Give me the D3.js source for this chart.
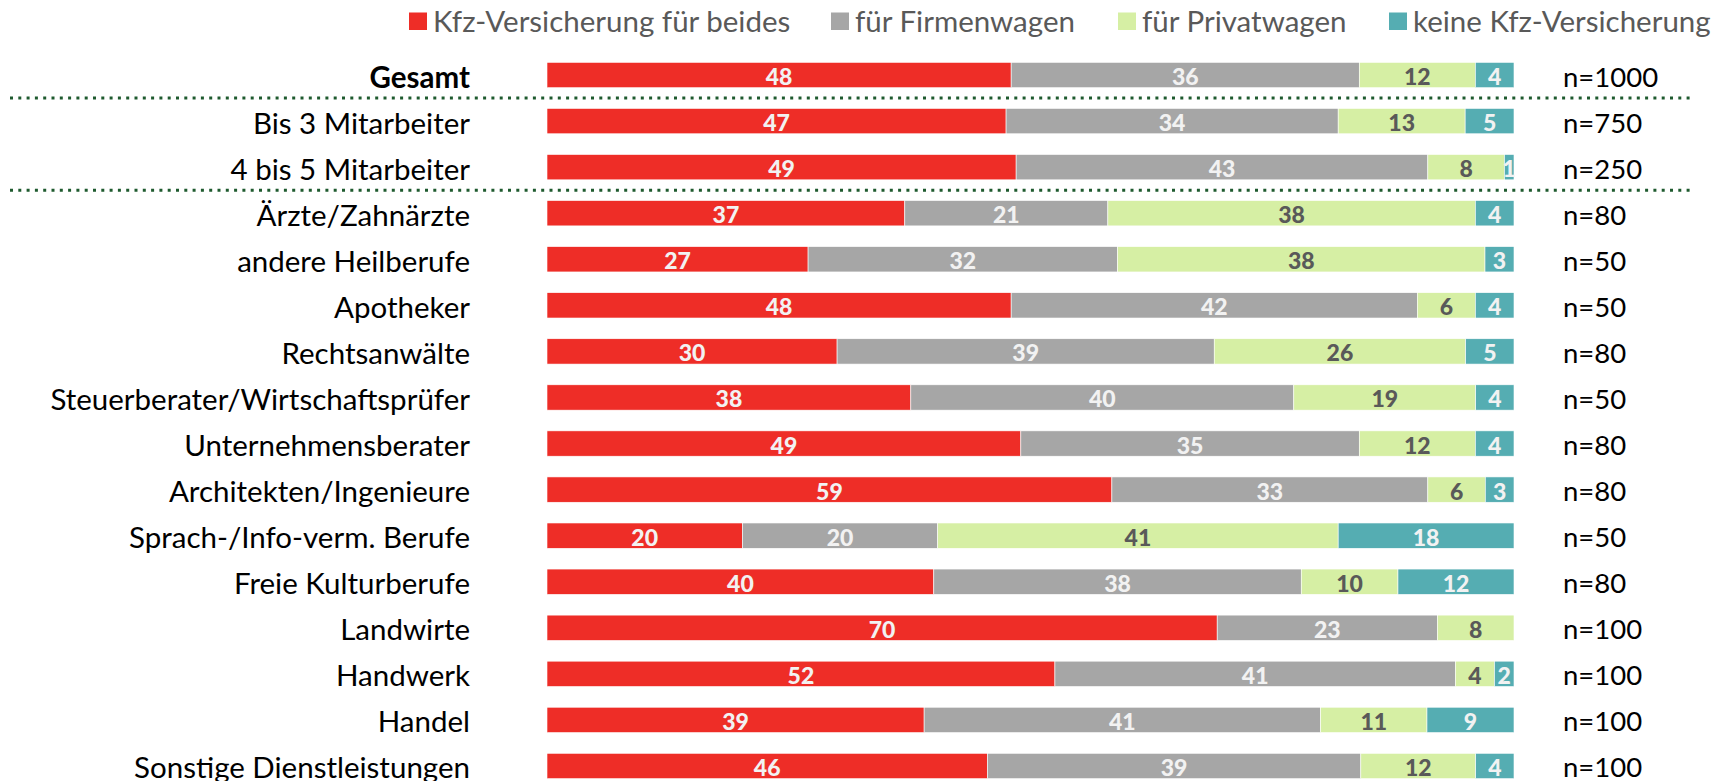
<!DOCTYPE html>
<html><head><meta charset="utf-8">
<script src="https://cdn.jsdelivr.net/npm/d3@7"></script>
<style>body{margin:0;background:#fff}svg{display:block}text{font-family:Lato,"Open Sans",sans-serif}</style>
</head><body><svg id="c" width="1729" height="781"></svg>
<script>
const categories = ["Gesamt","Bis 3 Mitarbeiter","4 bis 5 Mitarbeiter","Ärzte/Zahnärzte","andere Heilberufe","Apotheker","Rechtsanwälte","Steuerberater/Wirtschaftsprüfer","Unternehmensberater","Architekten/Ingenieure","Sprach-/Info-verm. Berufe","Freie Kulturberufe","Landwirte","Handwerk","Handel","Sonstige Dienstleistungen"];
const nLabels = ["n=1000","n=750","n=250","n=80","n=50","n=50","n=80","n=50","n=80","n=80","n=50","n=80","n=100","n=100","n=100","n=100"];
const seriesNames = ["Kfz-Versicherung für beides","für Firmenwagen","für Privatwagen","keine Kfz-Versicherung"];
const beides   = [48,47,49,37,27,48,30,38,49,59,20,40,70,52,39,46];
const firmen   = [36,34,43,21,32,42,39,40,35,33,20,38,23,41,41,39];
const privat   = [12,13, 8,38,38, 6,26,19,12, 6,41,10, 8, 4,11,12];
const keine    = [ 4, 5, 1, 4, 3, 4, 5, 4, 4, 3,18,12, 0, 2, 9, 4];
const colors = ["#EE2D27","#A6A6A6","#D6EFA4","#55ADB2"];
const labelColors = ["#F2F2F2","#F2F2F2","#595959","#F2F2F2"];
const separatorsAfter = ["Gesamt","4 bis 5 Mitarbeiter"];

const svg = d3.select("#c");
const x0 = 547, x1 = 1514;
const y = d3.scaleBand().domain(categories).range([52, 789]).paddingInner(0.45).paddingOuter(0.225);
const x = d3.scaleLinear().domain([0,1]).range([x0,x1]);

const rows = categories.map((c,i)=>({cat:c, vals:[beides[i],firmen[i],privat[i],keine[i]], n:nLabels[i]}));
const stack = d3.stack().keys([0,1,2,3]).value((d,k)=>{const s=d3.sum(d.vals);return d.vals[k]/s;});
const layers = stack(rows);

const g = svg.append("g");
layers.forEach((layer,k)=>{
  const lg = g.append("g");
  lg.selectAll("rect").data(layer).join("rect")
    .attr("x",d=>x(d[0])).attr("width",d=>Math.max(0,x(d[1])-x(d[0])))
    .attr("y",d=>y(d.data.cat)).attr("height",y.bandwidth())
    .attr("fill",colors[k]).attr("stroke","#fff").attr("stroke-width",0.6);
  lg.selectAll("text").data(layer.filter(d=>d.data.vals[k]>0)).join("text")
    .attr("x",d=>(x(d[0])+x(d[1]))/2).attr("y",d=>y(d.data.cat)+y.bandwidth()/2+1)
    .attr("text-anchor","middle").attr("dominant-baseline","central")
    .attr("font-weight","900").attr("font-size",23).attr("fill",labelColors[k])
    .text(d=>d.data.vals[k]);
});

// category labels
svg.append("g").selectAll("text").data(categories).join("text")
  .attr("x",470).attr("y",d=>y(d)+y.bandwidth()/2+1)
  .attr("text-anchor","end").attr("dominant-baseline","central")
  .attr("font-size",29.5).attr("fill","#000")
  .attr("font-weight",d=>d==="Gesamt"?"bold":"normal")
  .text(d=>d);

// n labels
svg.append("g").selectAll("text").data(rows).join("text")
  .attr("x",1563).attr("y",d=>y(d.cat)+y.bandwidth()/2+1)
  .attr("dominant-baseline","central").attr("font-size",27.5).attr("fill","#000")
  .text(d=>d.n);

// dotted separators
separatorsAfter.forEach(c=>{
  const i = categories.indexOf(c);
  const yy = (y(categories[i])+y.bandwidth() + y(categories[i+1]))/2;
  svg.append("line").attr("x1",10).attr("x2",1693).attr("y1",yy).attr("y2",yy)
    .attr("stroke","#1E5A2E").attr("stroke-width",3).attr("stroke-dasharray","3,5.3");
});

// legend
const legX = [409, 831, 1118, 1389];
const leg = svg.append("g");
seriesNames.forEach((s,k)=>{
  leg.append("rect").attr("x",legX[k]).attr("y",12.5).attr("width",18).attr("height",17.5).attr("fill",colors[k]);
  leg.append("text").attr("x",legX[k]+24).attr("y",20.5).attr("dominant-baseline","central")
    .attr("font-size",29.5).attr("fill","#595959").text(s);
});
</script></body></html>
